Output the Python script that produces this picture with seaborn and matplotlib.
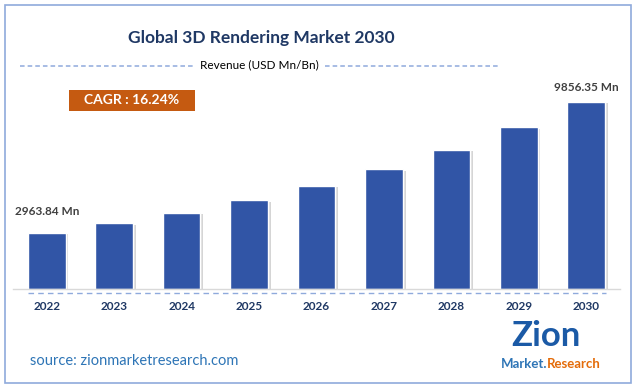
import numpy as np
import pandas as pd
import seaborn as sns
import matplotlib.pyplot as plt
import matplotlib.patheffects as pe
from matplotlib.patches import Rectangle
from matplotlib.lines import Line2D

# values (USD Mn)
years = ["2022", "2023", "2024", "2025", "2026", "2027", "2028", "2029", "2030"]
revenue = [2963.84, 3445, 4005, 4655, 5411, 6290, 7311, 8499, 9856.35]
first_label = "2963.84 Mn"
last_label = "9856.35 Mn"
cagr_text = "CAGR : 16.24%"

df = pd.DataFrame({"year": years, "revenue": revenue})

sns.set_theme(style="white")
plt.rcParams["font.family"] = ["Lato", "DejaVu Sans"]

W, H = 637, 387
fig = plt.figure(figsize=(W / 100, H / 100), dpi=100)
fig.patch.set_facecolor("white")

def fx(px):
    return px / W

def fy(py):
    return 1 - py / H

# outer border
fig.patches.append(Rectangle((fx(5), fy(383)), fx(626), 378 / H, transform=fig.transFigure,
                             fill=False, edgecolor="#8FAADC", linewidth=1.2))

ax = fig.add_axes([fx(13), fy(289), fx(607), 194 / H])
sns.barplot(data=df, x="year", y="revenue", color="#3155A6", saturation=1, width=0.56, ax=ax)
for p in ax.patches:
    p.set_path_effects([pe.withSimplePatchShadow(offset=(2, -1), shadow_rgbFace="#777777", alpha=0.3),
                        pe.Normal()])
ax.set_xlim(-0.5, 8.5)
ax.set_ylim(0, 10200)
ax.set_xlabel("")
ax.set_ylabel("")
ax.set_yticks([])
for s in ["top", "right", "left"]:
    ax.spines[s].set_visible(False)
ax.spines["bottom"].set_color("#D9D9D9")
ax.spines["bottom"].set_linewidth(1)
ax.tick_params(axis="x", length=0, pad=9)
for t in ax.get_xticklabels():
    t.set_fontweight("bold")
    t.set_color("#1F3864")
    t.set_fontsize(8.5)

# value labels at the ends
ax.annotate(first_label, (0, revenue[0]), xytext=(0, 15), textcoords="offset points",
            ha="center", va="center", fontsize=8.5, color="#404040", fontweight="bold")
ax.annotate(last_label, (8, revenue[-1]), xytext=(0, 10), textcoords="offset points",
            ha="center", va="center", fontsize=8.5, color="#404040", fontweight="bold")

# dashed line under the baseline
fig.add_artist(Line2D([fx(28), fx(606)], [fy(293), fy(293)], transform=fig.transFigure,
                      color="#8FAADC", linestyle=(0, (4, 3)), linewidth=1))

# title and subtitle
fig.text(fx(261), fy(38), "Global 3D Rendering Market 2030", ha="center", va="center",
         fontsize=12.5, fontweight="bold", color="#1F3864")
fig.text(fx(259), fy(65), "Revenue (USD Mn/Bn)", ha="center", va="center",
         fontsize=8.5, color="#000000")
for x0, x1 in [(20, 195), (325, 500)]:
    fig.add_artist(Line2D([fx(x0), fx(x1)], [fy(66), fy(66)], transform=fig.transFigure,
                          color="#8FAADC", linestyle=(0, (3, 2)), linewidth=1.1))

# CAGR box
fig.patches.append(Rectangle((fx(69), fy(111)), fx(126), 21 / H, transform=fig.transFigure,
                             facecolor="#C55A11", edgecolor="none"))
fig.text(fx(132), fy(100.5), cagr_text, ha="center", va="center", fontsize=10,
         fontweight="bold", color="white")

# source
fig.text(fx(30), fy(361), "source: zionmarketresearch.com", ha="left", va="center",
         fontsize=10.5, color="#2E75B6")

# logo as text
fig.text(fx(546), fy(336), "Zion", ha="center", va="center", fontsize=25,
         fontweight="bold", color="#1B5AA6")
fig.text(fx(547), fy(364), "Market.", ha="right", va="center", fontsize=9.5,
         fontweight="bold", color="#2E75B6")
fig.text(fx(547), fy(364), "Research", ha="left", va="center", fontsize=9.5,
         fontweight="bold", color="#E46C0A")

fig.savefig("out.png", dpi=100)
